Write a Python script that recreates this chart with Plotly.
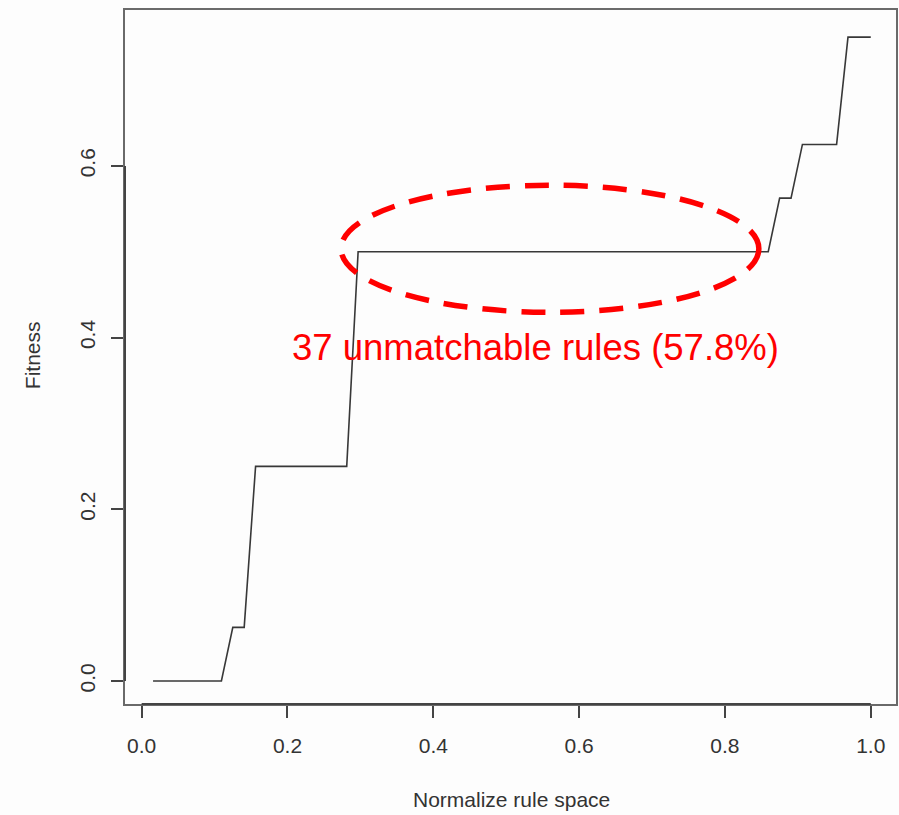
import plotly.graph_objects as go

# Fitness of each rule, rules sorted by fitness (64 rules in total)
fitness = [
    0, 0, 0, 0, 0, 0, 0,
    0.0625, 0.0625,
    0.25, 0.25, 0.25, 0.25, 0.25, 0.25, 0.25, 0.25, 0.25,
    0.5, 0.5, 0.5, 0.5, 0.5, 0.5, 0.5, 0.5, 0.5, 0.5,
    0.5, 0.5, 0.5, 0.5, 0.5, 0.5, 0.5, 0.5, 0.5, 0.5,
    0.5, 0.5, 0.5, 0.5, 0.5, 0.5, 0.5, 0.5, 0.5, 0.5,
    0.5, 0.5, 0.5, 0.5, 0.5, 0.5, 0.5,
    0.5625, 0.5625,
    0.625, 0.625, 0.625, 0.625,
    0.75, 0.75, 0.75,
]
n_rules = len(fitness)
rule_rank = list(range(1, n_rules + 1))
rule_space = [r / n_rules for r in rule_rank]

x_ticks = [0.0, 0.2, 0.4, 0.6, 0.8, 1.0]
y_ticks = [0.0, 0.2, 0.4, 0.6]

# Highlighted plateau of unmatchable rules
plateau_x = (0.2735, 0.8465)
plateau_y = (0.4295, 0.5775)
plateau_label = "37 unmatchable rules (57.8%)"

FONT = "Liberation Sans, Arial, Helvetica, sans-serif"
BOX = "#6a6a6a"
AXIS = "#444444"

fig = go.Figure()
fig.add_trace(go.Scatter(
    x=rule_space, y=fitness, mode="lines",
    line=dict(color="#383838", width=1.6),
    hoverinfo="skip", showlegend=False,
))

fig.update_xaxes(
    range=[-0.02285, 1.0346], tickvals=x_ticks, tickformat=".1f",
    showgrid=False, zeroline=False,
    showline=True, mirror=True, linecolor=BOX, linewidth=1.5,
    ticks="outside", ticklen=12, tickwidth=1.5, tickcolor=AXIS,
    tickfont=dict(family=FONT, size=21, color="#333333"),
    ticklabelstandoff=10,
)
fig.update_yaxes(
    range=[-0.0268, 0.7816], tickvals=y_ticks, tickformat=".1f",
    showgrid=False, zeroline=False,
    showline=True, mirror=True, linecolor=BOX, linewidth=1.5,
    ticks="outside", ticklen=12, tickwidth=1.5, tickcolor=AXIS,
    tickangle=-90,
    tickfont=dict(family=FONT, size=21, color="#333333"),
    ticklabelstandoff=8,
)

shapes = [
    # axis segments spanning the first to last tick
    dict(type="line", xref="x", yref="paper", x0=x_ticks[0], x1=x_ticks[-1],
         y0=0, y1=0, line=dict(color=AXIS, width=2)),
    dict(type="line", xref="paper", yref="y", x0=0, x1=0,
         y0=y_ticks[0], y1=y_ticks[-1], line=dict(color=AXIS, width=2)),
    # dashed ellipse around the plateau
    dict(type="circle", xref="x", yref="y",
         x0=plateau_x[0], x1=plateau_x[1], y0=plateau_y[0], y1=plateau_y[1],
         line=dict(color="#ff0000", width=5.5, dash="24px,15px")),
]

annotations = [
    dict(text=plateau_label, x=0.5408, y=0.389, xref="x", yref="y",
         showarrow=False, font=dict(family=FONT, size=36.5, color="#ff0000")),
    dict(text="Normalize rule space", x=0.5007, y=-0.1383, xref="paper",
         yref="paper", showarrow=False, xanchor="center", yanchor="middle",
         font=dict(family=FONT, size=21, color="#333333")),
    dict(text="Fitness", x=-0.119, y=0.503, xref="paper", yref="paper",
         showarrow=False, textangle=-90, xanchor="center", yanchor="middle",
         font=dict(family=FONT, size=21, color="#333333")),
]

fig.update_layout(
    width=899, height=815,
    margin=dict(l=125, r=1, t=10, b=111),
    paper_bgcolor="#fdfdfd", plot_bgcolor="#fdfdfd",
    shapes=shapes, annotations=annotations,
)

fig.write_html("out.html")
